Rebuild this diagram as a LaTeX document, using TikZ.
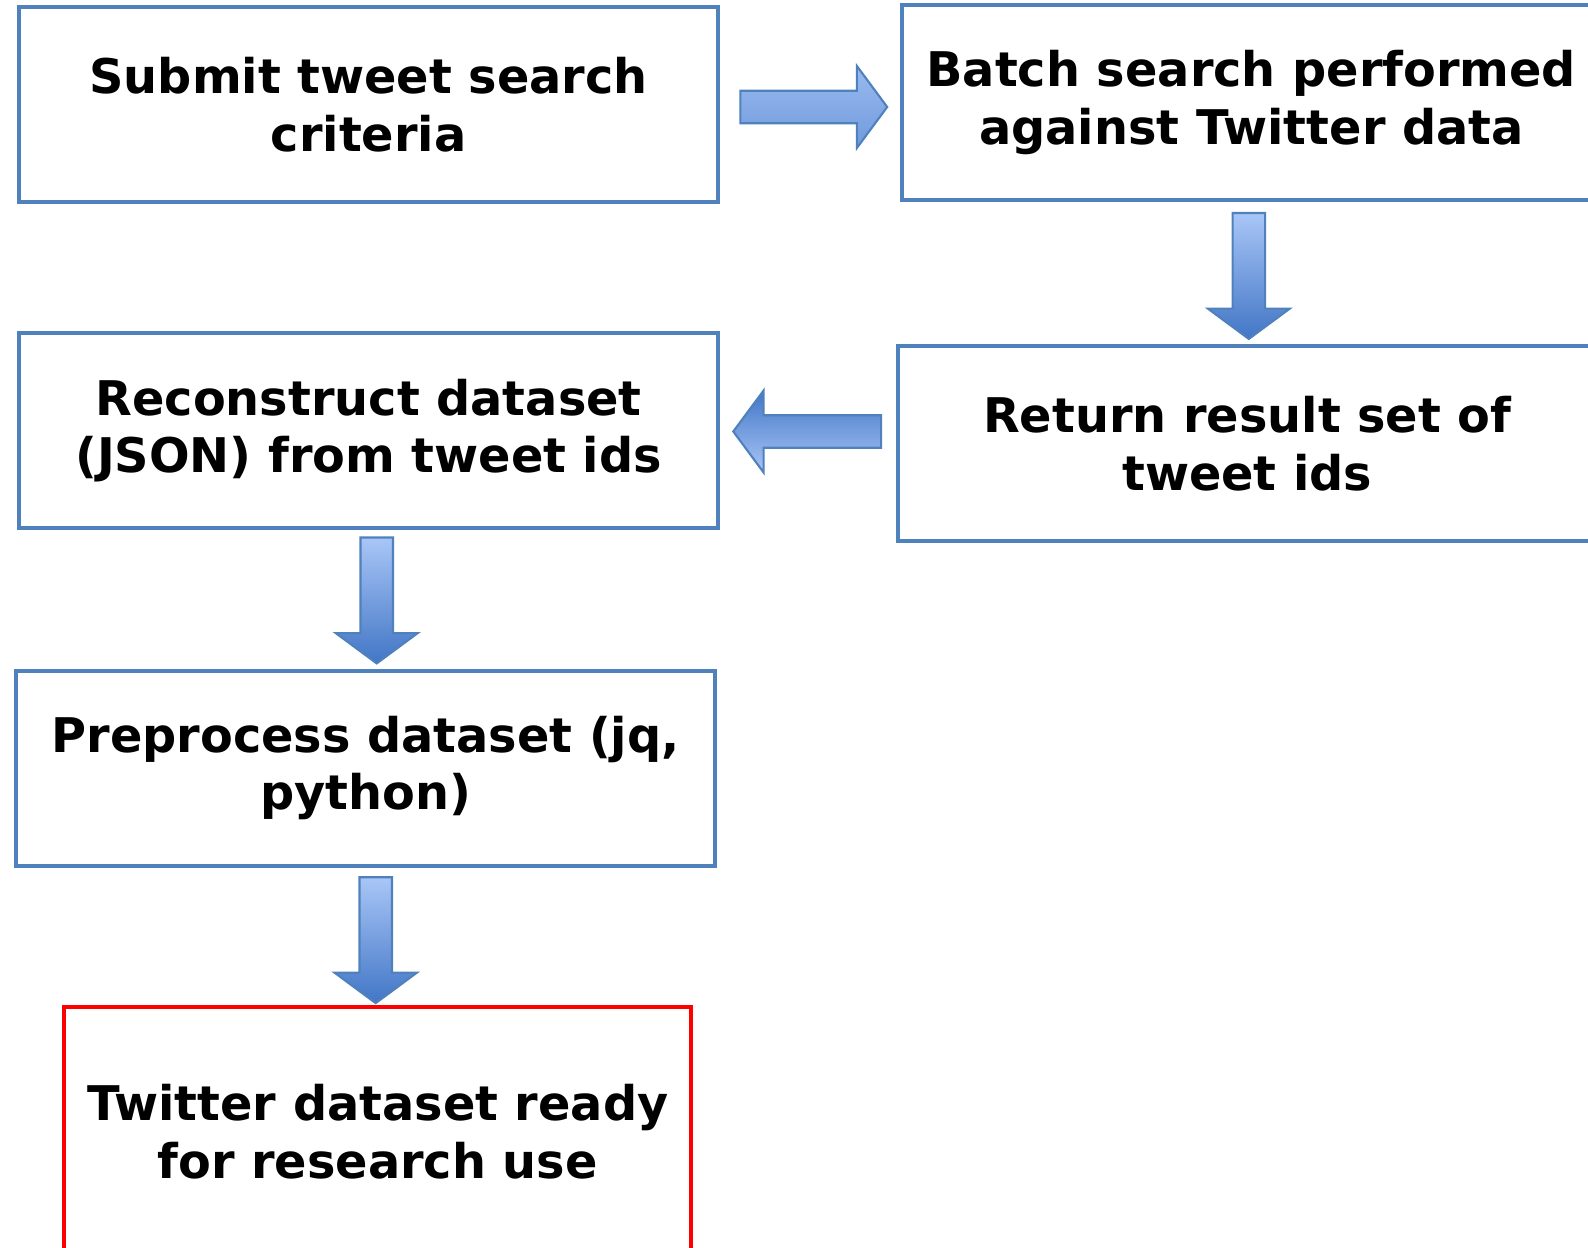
\documentclass[tikz,border=0pt]{standalone}
\usepackage{fontspec}
\setmainfont{DejaVu Sans}
\usetikzlibrary{shapes.arrows}
\definecolor{boxblue}{HTML}{4F81BD}
\definecolor{arrowlight}{HTML}{A9C6F7}
\definecolor{arrowdark}{HTML}{4276C6}

\begin{document}
\begin{tikzpicture}[x=0.01014cm,y=-0.01014cm,
    procbox/.style={draw=boxblue,line width=0.04cm,minimum width=7cm,minimum height=1.95cm,
      align=center,inner sep=0pt,font=\fontsize{13.6}{16.4}\selectfont\bfseries},
    flowarrow/.style={single arrow,draw=boxblue,line width=0.6pt,inner sep=0.152cm,anchor=tail,
      single arrow head extend=0.248cm,single arrow tip angle=107,single arrow head indent=0pt}]
      \useasboundingbox (0,0) rectangle (1566,1230);
      \clip (0,0) rectangle (1566,1230);
      \node[procbox] (submit) at (363.5,103) {Submit tweet search\\criteria};
      \node[procbox] (batch) at (1234,101) {Batch search performed\\against Twitter data};
      \node[procbox] (result) at (1230,437.5) {Return result set of\\tweet ids};
      \node[procbox] (rebuild) at (363.5,424.5) {Reconstruct dataset\\(JSON) from tweet ids};
      \node[procbox] (prep) at (360.5,757.5) {Preprocess dataset (jq,\\python)};
      \node[procbox,draw=red,minimum width=6.27cm,minimum height=2.5cm] (ready) at (372.5,1116) {Twitter dataset ready\\for research use};
      %
      \node[flowarrow,minimum height=1.47cm,top color=arrowlight!85!arrowdark,bottom color=arrowlight!45!arrowdark] (a1) at (729,105.5) {};
      \node[flowarrow,minimum height=1.26cm,rotate=-90,top color=arrowlight,bottom color=arrowdark] (a2) at (1231.5,209) {};
      \node[flowarrow,minimum height=1.48cm,rotate=180,top color=arrowdark,bottom color=arrowlight] (a3) at (870,425.5) {};
      \node[flowarrow,minimum height=1.26cm,rotate=-90,top color=arrowlight,bottom color=arrowdark] (a4) at (371.5,529) {};
      \node[flowarrow,minimum height=1.26cm,rotate=-90,top color=arrowlight,bottom color=arrowdark] (a5) at (370.5,864) {};
\end{tikzpicture}
\end{document}
